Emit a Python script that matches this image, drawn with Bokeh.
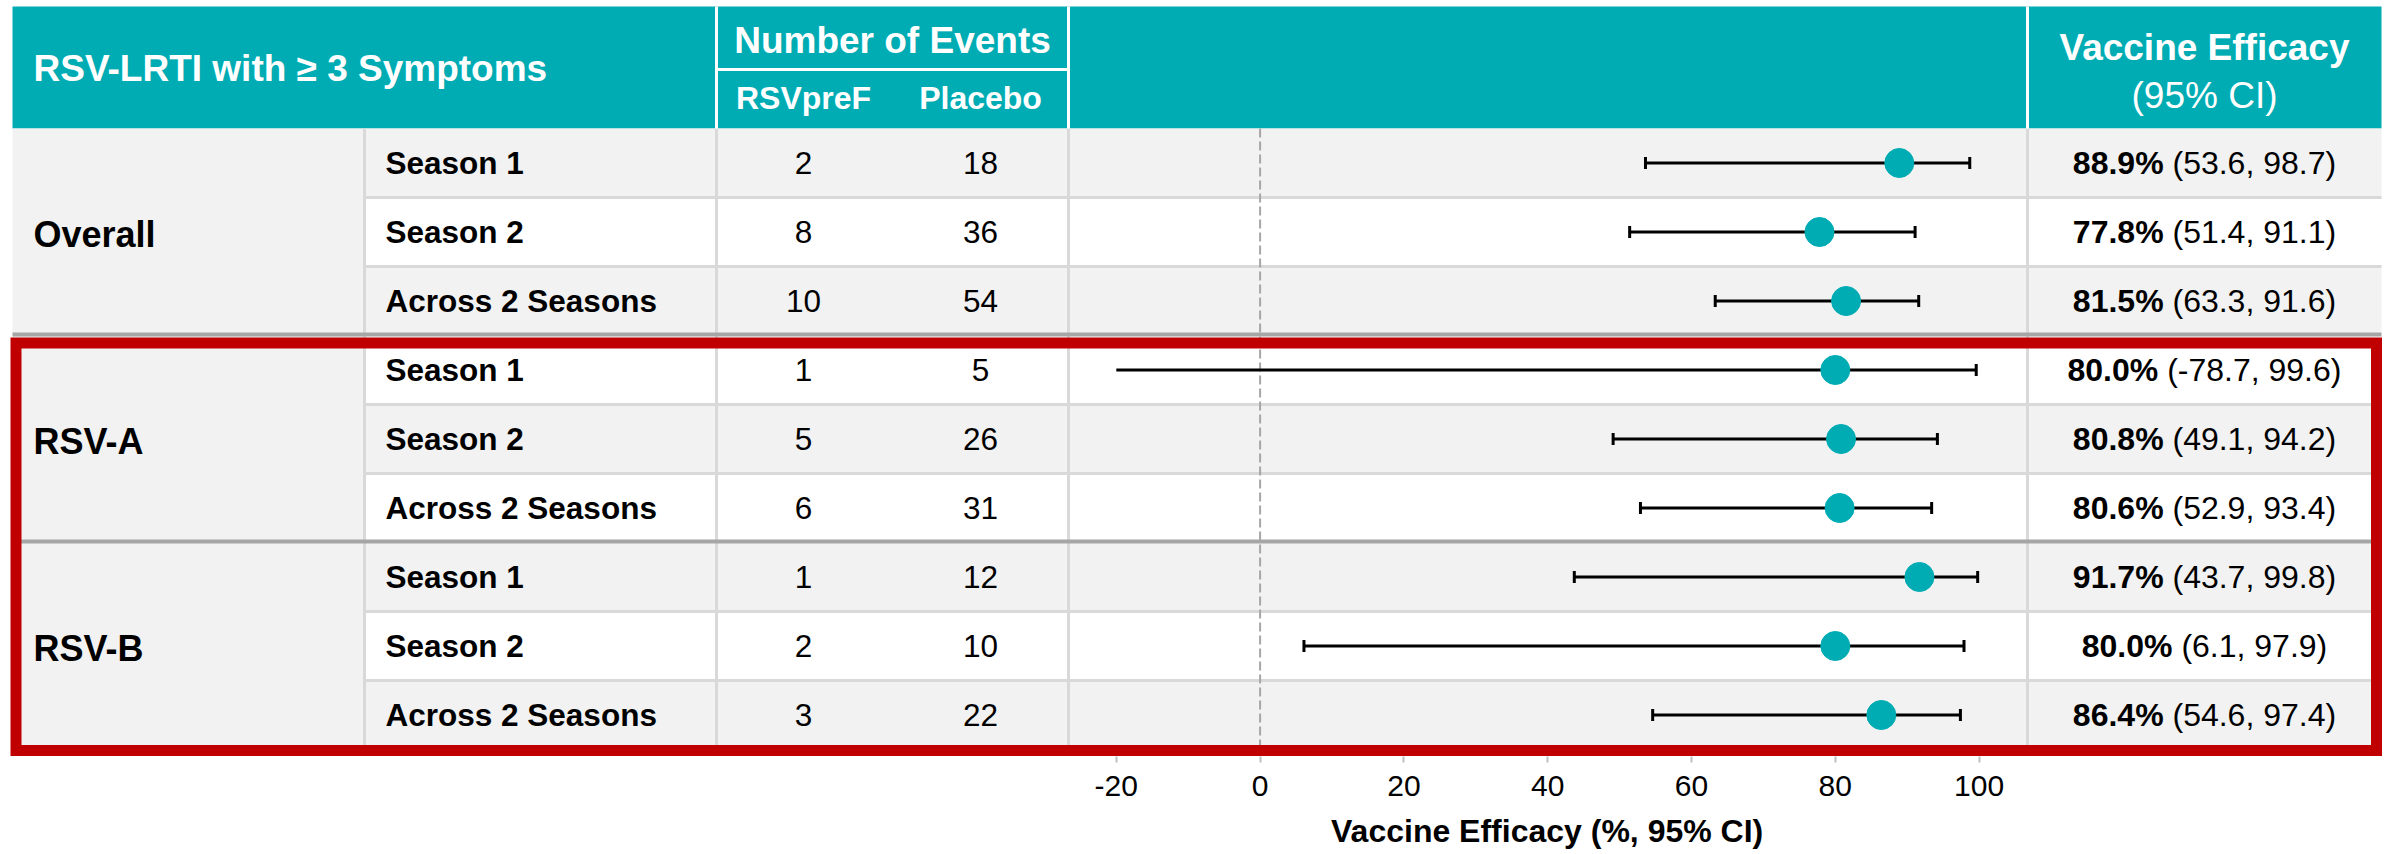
from bokeh.plotting import figure
from bokeh.models import Range1d, LinearAxis, FixedTicker, ColumnDataSource, Title
from bokeh.core.properties import value
from bokeh.embed import file_html
from bokeh.resources import INLINE

# ---------------- data ----------------
title_text = "RSV-LRTI with \u2265 3 Symptoms"
events_header = "Number of Events"
arm_labels = ["RSVpreF", "Placebo"]
ve_header = ["Vaccine Efficacy", "(95% CI)"]
axis_title = "Vaccine Efficacy (%, 95% CI)"

groups = ["Overall", "RSV-A", "RSV-B"]
subgroups = ["Season 1", "Season 2", "Across 2 Seasons",
             "Season 1", "Season 2", "Across 2 Seasons",
             "Season 1", "Season 2", "Across 2 Seasons"]
rsvpref_events = [2, 8, 10, 1, 5, 6, 1, 2, 3]
placebo_events = [18, 36, 54, 5, 26, 31, 12, 10, 22]
ve = [88.9, 77.8, 81.5, 80.0, 80.8, 80.6, 91.7, 80.0, 86.4]
ci_low = [53.6, 51.4, 63.3, -78.7, 49.1, 52.9, 43.7, 6.1, 54.6]
ci_high = [98.7, 91.1, 91.6, 99.6, 94.2, 93.4, 99.8, 97.9, 97.4]
x_ticks = [-20, 0, 20, 40, 60, 80, 100]

# ---------------- layout / style ----------------
TEAL = "#00ACB4"
STRIPE = "#F2F2F2"
GRID = "#D9D9D9"
GROUP_SEP = "#A6A6A6"
RED = "#C00000"
FONT = value("Liberation Sans")

PAGE_L, PAGE_R = 0, 2384
TOP, HEADER_BOTTOM, ROW_H, FRAME_BOTTOM = 6, 128, 69, 756
COLS = [12, 364, 716, 1068, 2027, 2381]   # table column boundaries
SUB_HDR_Y = 69
ZERO_X, PX_PER_UNIT = 1259.6, 7.19        # forest scale placement
ARM_X = [803, 980]
VE_CENTER = 2204
LABEL_PAD = 21
BODY_FS = 31.5
GROUP_FS = 36
HDR_FS = 37
AXIS_TITLE_FS = 32
ROWS_PER_GROUP = 3

n = len(subgroups)
row_top = [HEADER_BOTTOM + ROW_H * i for i in range(n)]
row_bot = [t + ROW_H for t in row_top]
row_mid = [t + ROW_H / 2 for t in row_top]
TABLE_BOTTOM = row_bot[-1]

# approximate Liberation Sans advance widths (per 1000 em) for centring texts
W_REG = {"(": 333, ")": 333, "-": 333, ".": 278, ",": 278, " ": 278, "%": 889}
W_BOLD = {".": 278, "%": 889, " ": 278, ",": 278, "(": 333, ")": 333,
          "V": 667, "a": 556, "c": 556, "i": 278, "n": 611, "e": 556, "E": 667,
          "f": 333, "y": 556, "C": 722, "I": 278}
def tw(s, table, fs):
    return sum(table.get(c, 556) for c in s) * fs / 1000.0

p = figure(frame_width=PAGE_R - PAGE_L, frame_height=FRAME_BOTTOM,
           x_range=Range1d(PAGE_L, PAGE_R), y_range=Range1d(FRAME_BOTTOM, 0),
           x_axis_type=None, y_axis_type=None, output_backend="svg",
           toolbar_location=None, min_border=0,
           outline_line_color=None,
           background_fill_color="white", border_fill_color="white")
p.extra_x_ranges = {"ve": Range1d((PAGE_L - ZERO_X) / PX_PER_UNIT,
                                  (PAGE_R - ZERO_X) / PX_PER_UNIT)}

# header background
p.quad(left=[COLS[0]], right=[COLS[-1]], top=[TOP], bottom=[HEADER_BOTTOM],
       fill_color=TEAL, line_color=None)
# row stripes
p.quad(left=[COLS[1]] * n, right=[COLS[-1]] * n, top=row_top, bottom=row_bot,
       fill_color=[STRIPE if i % 2 == 0 else "white" for i in range(n)], line_color=None)
# group label column
p.quad(left=[COLS[0]], right=[COLS[1]], top=[HEADER_BOTTOM], bottom=[TABLE_BOTTOM],
       fill_color=STRIPE, line_color=None)

# row separators (within groups)
inner = [row_bot[i] for i in range(n - 1) if (i + 1) % ROWS_PER_GROUP != 0]
p.segment(x0=[COLS[1]] * len(inner), x1=[COLS[-1]] * len(inner), y0=inner, y1=inner,
          line_color=GRID, line_width=3)
# vertical body separators
vx = COLS[1:5]
p.segment(x0=vx, x1=vx, y0=[HEADER_BOTTOM] * 4, y1=[TABLE_BOTTOM] * 4,
          line_color=GRID, line_width=3)
# group separators
gsep = [row_bot[i] - 1 for i in range(n - 1) if (i + 1) % ROWS_PER_GROUP == 0]
p.segment(x0=[COLS[0]] * len(gsep), x1=[COLS[-1]] * len(gsep), y0=gsep, y1=gsep,
          line_color=GROUP_SEP, line_width=4)
# header white separators
hx = [COLS[2], COLS[3], COLS[4]]
p.segment(x0=hx, x1=hx, y0=[TOP] * 3, y1=[HEADER_BOTTOM] * 3, line_color="white", line_width=3)
p.segment(x0=[COLS[2]], x1=[COLS[3]], y0=[SUB_HDR_Y], y1=[SUB_HDR_Y], line_color="white", line_width=3)

# header texts
p.text(x=[33], y=[68], text=[title_text], text_color="white", text_font=FONT,
       text_font_style="bold", text_font_size=value(f"{HDR_FS}px"), text_baseline="middle")
p.text(x=[(COLS[2] + COLS[3]) / 2], y=[40], text=[events_header], text_color="white",
       text_font=FONT, text_font_style="bold", text_font_size=value(f"{HDR_FS}px"),
       text_align="center", text_baseline="middle")
p.text(x=ARM_X, y=[97, 97], text=arm_labels, text_color="white", text_font=FONT,
       text_font_style="bold", text_font_size=value("32px"), text_align="center",
       text_baseline="middle")
p.text(x=[VE_CENTER], y=[47], text=[ve_header[0]], text_color="white", text_font=FONT,
       text_font_style="bold", text_font_size=value(f"{HDR_FS}px"), text_align="center",
       text_baseline="middle")
p.text(x=[VE_CENTER], y=[95], text=[ve_header[1]], text_color="white", text_font=FONT,
       text_font_size=value(f"{HDR_FS}px"), text_align="center", text_baseline="middle")

# group labels
gmid = [(row_top[g * ROWS_PER_GROUP] + row_bot[g * ROWS_PER_GROUP + ROWS_PER_GROUP - 1]) / 2 + 2
        for g in range(len(groups))]
p.text(x=[COLS[0] + LABEL_PAD] * len(groups), y=gmid, text=groups, text_color="black",
       text_font=FONT, text_font_style="bold", text_font_size=value(f"{GROUP_FS}px"),
       text_baseline="middle")
# subgroup labels
p.text(x=[COLS[1] + LABEL_PAD] * n, y=row_mid, text=subgroups, text_color="black",
       text_font=FONT, text_font_style="bold", text_font_size=value(f"{BODY_FS}px"),
       text_baseline="middle")
# event counts
p.text(x=[ARM_X[0]] * n, y=row_mid, text=[str(v) for v in rsvpref_events], text_color="black",
       text_font=FONT, text_font_size=value(f"{BODY_FS}px"), text_align="center",
       text_baseline="middle")
p.text(x=[ARM_X[1]] * n, y=row_mid, text=[str(v) for v in placebo_events], text_color="black",
       text_font=FONT, text_font_size=value(f"{BODY_FS}px"), text_align="center",
       text_baseline="middle")

# VE text (bold estimate + regular CI), centred as a whole
VE_FS = 32
bold_s = [f"{v:.1f}%" for v in ve]
reg_s = [f"({lo:.1f}, {hi:.1f})" for lo, hi in zip(ci_low, ci_high)]
split_x = []
for b, r in zip(bold_s, reg_s):
    total = tw(b, W_BOLD, VE_FS) + tw(" ", W_REG, VE_FS) + tw(r, W_REG, VE_FS)
    split_x.append(VE_CENTER - total / 2 + tw(b, W_BOLD, VE_FS))
p.text(x=split_x, y=row_mid, text=bold_s, text_color="black", text_font=FONT,
       text_font_style="bold", text_font_size=value(f"{VE_FS}px"), text_align="right",
       text_baseline="middle")
p.text(x=[s + tw(" ", W_REG, VE_FS) for s in split_x], y=row_mid, text=reg_s,
       text_color="black", text_font=FONT, text_font_size=value(f"{VE_FS}px"),
       text_align="left", text_baseline="middle")

# reference line at 0
p.segment(x0=[0], x1=[0], y0=[HEADER_BOTTOM], y1=[TABLE_BOTTOM], x_range_name="ve",
          line_color="#A6A6A6", line_width=2, line_dash="9 4")

# forest plot
axis_min = x_ticks[0]
lo_draw = [max(lo, axis_min) for lo in ci_low]
src = ColumnDataSource(dict(lo=lo_draw, hi=ci_high, ve=ve, y=row_mid,
                            cap_t=[y - 6 for y in row_mid], cap_b=[y + 6 for y in row_mid]))
p.segment(x0="lo", x1="hi", y0="y", y1="y", source=src, x_range_name="ve",
          line_color="black", line_width=3)
p.segment(x0="hi", x1="hi", y0="cap_t", y1="cap_b", source=src, x_range_name="ve",
          line_color="black", line_width=3)
keep = [i for i, lo in enumerate(ci_low) if lo >= axis_min]
p.segment(x0=[ci_low[i] for i in keep], x1=[ci_low[i] for i in keep],
          y0=[row_mid[i] - 6 for i in keep], y1=[row_mid[i] + 6 for i in keep],
          x_range_name="ve", line_color="black", line_width=3)
p.scatter(x="ve", y="y", source=src, x_range_name="ve", size=29, fill_color=TEAL,
          line_color=TEAL)

# red highlight box around RSV-A / RSV-B
RED_W = 11
p.quad(left=[COLS[0] + 3.5], right=[COLS[-1] - 5],
       top=[row_top[ROWS_PER_GROUP] + 7.5], bottom=[TABLE_BOTTOM + 1],
       fill_color=None, line_color=RED, line_width=RED_W, line_join="miter")

# axis
ax = LinearAxis(x_range_name="ve", ticker=FixedTicker(ticks=x_ticks),
                bounds=(x_ticks[0], x_ticks[-1]))
ax.major_label_overrides = {t: str(t) for t in x_ticks}
ax.axis_line_color = None
ax.major_tick_line_color = "#BFBFBF"
ax.major_tick_line_width = 2
ax.major_tick_in = 0
ax.major_tick_out = 6
ax.minor_tick_line_color = None
ax.major_label_text_font = "Liberation Sans"
ax.major_label_text_font_size = "30px"
ax.major_label_text_color = "black"
ax.major_label_standoff = 13
p.add_layout(ax, "below")

# axis title centred under the forest-plot column
col_center = (COLS[3] + COLS[4]) / 2
p.add_layout(Title(text=axis_title, align="left",
                   offset=col_center - tw(axis_title, W_BOLD, AXIS_TITLE_FS) / 2 - PAGE_L,
                   text_font="Liberation Sans", text_font_style="bold",
                   text_font_size=f"{AXIS_TITLE_FS}px", text_color="black",
                   vertical_align="bottom", standoff=24), "below")

open("out.html", "w").write(file_html(p, INLINE))
